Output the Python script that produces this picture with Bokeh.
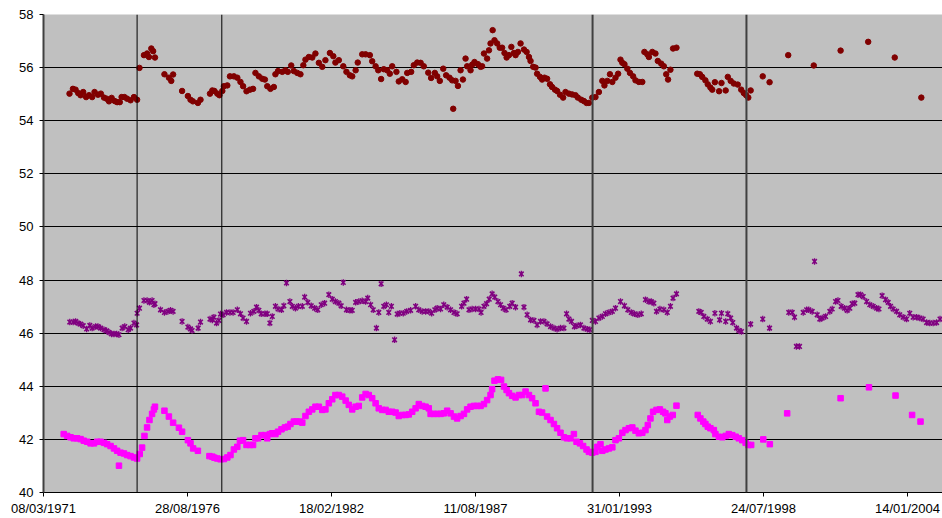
from datetime import datetime, timedelta
from bokeh.plotting import figure
from bokeh.models import FixedTicker, DatetimeTickFormatter, Span, Range1d
from bokeh.embed import file_html
from bokeh.resources import INLINE

# ---------------- data (dates as decimal years) ----------------
red_year = [
    1972.17, 1972.30, 1972.40, 1972.50, 1972.59, 1972.69, 1972.80, 1972.91, 1973.03, 1973.12,
    1973.25, 1973.36, 1973.48, 1973.58, 1973.67, 1973.77, 1973.89, 1973.98, 1974.08, 1974.15,
    1974.26, 1974.36, 1974.49, 1974.62, 1974.74, 1974.83, 1975.00, 1975.12, 1975.19, 1975.28,
    1975.35, 1975.42, 1975.78, 1975.95, 1976.04, 1976.11, 1976.45, 1976.67, 1976.77, 1976.86,
    1977.05, 1977.15, 1977.51, 1977.60, 1977.68, 1977.79, 1977.87, 1977.98, 1978.04, 1978.17,
    1978.27, 1978.42, 1978.55, 1978.67, 1978.77, 1978.90, 1979.03, 1979.15, 1979.24, 1979.37,
    1979.50, 1979.60, 1979.69, 1979.81, 1979.94, 1980.00, 1980.10, 1980.26, 1980.38, 1980.47,
    1980.60, 1980.70, 1980.83,
    1980.95, 1981.06, 1981.14, 1981.27, 1981.40, 1981.52, 1981.65, 1981.78, 1981.90, 1982.07,
    1982.20, 1982.28, 1982.41, 1982.58, 1982.70, 1982.83, 1982.92, 1983.05, 1983.13, 1983.30,
    1983.43, 1983.59, 1983.68, 1983.81, 1983.91, 1984.02, 1984.12, 1984.25, 1984.35, 1984.44,
    1984.60, 1984.69, 1984.82, 1984.95, 1985.01, 1985.16, 1985.26, 1985.39, 1985.52, 1985.64,
    1985.81, 1985.92, 1986.06, 1986.15, 1986.25, 1986.38, 1986.49, 1986.62, 1986.72, 1986.76,
    1986.85, 1986.94, 1987.04, 1987.13, 1987.23, 1987.29, 1987.42, 1987.48, 1987.57, 1987.70,
    1987.80, 1987.86, 1987.93, 1988.05, 1988.12, 1988.18, 1988.26, 1988.33, 1988.43, 1988.53,
    1988.62, 1988.71, 1988.79, 1988.88, 1988.97, 1989.07, 1989.13, 1989.22, 1989.32, 1989.45,
    1989.55, 1989.64, 1989.70, 1989.80, 1989.89, 1989.95, 1990.06, 1990.14, 1990.23, 1990.33,
    1990.44, 1990.52, 1990.63, 1990.71, 1990.82, 1990.94, 1991.03, 1991.16, 1991.28, 1991.41,
    1991.50, 1991.63, 1991.73, 1991.83, 1991.92, 1992.05, 1992.17, 1992.30, 1992.43, 1992.51,
    1992.62, 1992.72, 1992.81, 1992.93, 1993.03, 1993.12,
    1993.19, 1993.27, 1993.38, 1993.48, 1993.60, 1993.69, 1993.82, 1993.95, 1994.03, 1994.14,
    1994.20, 1994.33, 1994.45, 1994.54, 1994.67, 1994.77, 1994.86, 1994.93, 1995.02, 1995.12,
    1995.25, 1996.04, 1996.14, 1996.23, 1996.35, 1996.44, 1996.54, 1996.61, 1996.71, 1996.87,
    1996.96, 1997.12, 1997.20, 1997.31, 1997.43, 1997.58, 1997.71, 1997.81, 1997.90, 1997.98,
    1998.07, 1998.53, 1998.79, 1999.50, 2000.47, 2001.49, 2002.54, 2003.55, 2004.56,
]
red_value = [
    55.02, 55.20, 55.17, 55.04, 54.96, 55.08, 54.89, 54.96, 54.89, 55.08,
    54.98, 55.02, 54.87, 54.83, 54.73, 54.86, 54.74, 54.70, 54.70, 54.89,
    54.89, 54.83, 54.77, 54.89, 54.79, 55.99, 56.47, 56.53, 56.40, 56.72,
    56.62, 56.38, 55.75, 55.62, 55.50, 55.74, 55.12, 54.93, 54.79, 54.73,
    54.67, 54.79, 55.02, 55.14, 55.12, 55.02, 54.96, 55.12, 55.30, 55.33,
    55.67, 55.67, 55.62, 55.46, 55.30, 55.11, 55.17, 55.20, 55.80, 55.67,
    55.58, 55.55, 55.30, 55.20, 55.27, 55.75, 55.87, 55.84, 55.90, 55.84,
    56.08, 55.87, 55.80,
    55.75, 56.09, 56.30, 56.40, 56.38, 56.53, 56.18, 56.03, 56.28, 56.55,
    56.43, 56.19, 56.28, 56.05, 55.84, 55.71, 55.67, 55.90, 56.19, 56.50,
    56.50, 56.47, 56.24, 56.05, 55.90, 55.57, 55.94, 55.90, 55.77, 56.05,
    55.84, 55.48, 55.56, 55.46, 55.80, 55.84, 56.09, 56.19, 56.18, 56.05,
    55.81, 55.61, 55.80, 55.67, 55.50, 55.96, 55.71, 55.62, 55.52, 54.45,
    55.50, 55.31, 55.90, 55.55, 56.34, 56.05, 55.90, 56.11, 56.21, 56.13,
    56.03, 56.05, 56.53, 56.34, 56.65, 56.91, 57.41, 57.03, 56.91, 56.75,
    56.75, 56.55, 56.38, 56.47, 56.78, 56.55, 56.47, 56.59, 56.91, 56.68,
    56.59, 56.40, 56.25, 56.03, 56.00, 55.77, 55.65, 55.55, 55.62, 55.58,
    55.37, 55.27, 55.17, 55.12, 54.98, 54.87, 55.08, 55.02, 54.99, 54.96,
    54.87, 54.79, 54.74, 54.67, 54.67, 54.87, 54.89, 55.08, 55.50, 55.33,
    55.50, 55.75, 55.46, 55.62, 55.77, 56.30,
    56.18, 56.13, 55.96, 55.80, 55.67, 55.52, 55.46, 55.46, 56.59, 56.50,
    56.40, 56.59, 56.53, 56.25, 56.15, 56.05, 55.75, 55.55, 55.92, 56.72,
    56.75, 55.77, 55.75, 55.65, 55.52, 55.37, 55.25, 55.17, 55.45, 55.11,
    55.42, 55.14, 55.65, 55.50, 55.40, 55.36, 55.17, 55.04, 54.96, 54.87,
    55.14, 55.67, 55.45, 56.47, 56.08, 56.64, 56.97, 56.38, 54.87,
]

purple_year = [
    1972.18, 1972.31, 1972.40, 1972.49, 1972.59, 1972.69, 1972.82, 1972.94, 1973.03, 1973.16,
    1973.25, 1973.35, 1973.48, 1973.58, 1973.67, 1973.77, 1973.86, 1973.96, 1974.05, 1974.17,
    1974.27, 1974.40, 1974.49, 1974.62, 1974.72, 1974.74, 1974.83, 1975.00, 1975.12, 1975.21,
    1975.31, 1975.38, 1975.42, 1975.63, 1975.78, 1975.91, 1976.01, 1976.11, 1976.45, 1976.67,
    1976.77, 1976.83, 1977.06, 1977.15, 1977.51, 1977.60, 1977.66, 1977.76, 1977.85, 1977.91,
    1978.01, 1978.14, 1978.27, 1978.39, 1978.55, 1978.67, 1978.77, 1978.90, 1979.05, 1979.18,
    1979.28, 1979.37, 1979.46, 1979.60, 1979.69, 1979.79, 1979.88, 1980.00, 1980.10, 1980.23,
    1980.32, 1980.42, 1980.55, 1980.64, 1980.76, 1980.87,
    1981.02, 1981.11, 1981.23, 1981.36, 1981.49, 1981.61, 1981.74, 1981.87, 1982.03, 1982.16,
    1982.28, 1982.41, 1982.50, 1982.58, 1982.70, 1982.83, 1982.92, 1983.05, 1983.17, 1983.30,
    1983.43, 1983.51, 1983.62, 1983.72, 1983.84, 1983.93, 1984.02, 1984.12, 1984.22, 1984.31,
    1984.41, 1984.53, 1984.63, 1984.73, 1984.86, 1984.99, 1985.14, 1985.33, 1985.45, 1985.58,
    1985.71, 1985.83, 1985.94, 1986.06, 1986.15, 1986.28, 1986.40, 1986.53, 1986.66, 1986.79,
    1986.91, 1987.08, 1987.17, 1987.27, 1987.36, 1987.48, 1987.61, 1987.74, 1987.82, 1987.93,
    1988.03, 1988.13, 1988.24, 1988.34, 1988.46, 1988.56, 1988.66, 1988.77, 1988.91, 1989.00,
    1989.13, 1989.35, 1989.45, 1989.57, 1989.70, 1989.83, 1989.95, 1990.08, 1990.21, 1990.33,
    1990.46, 1990.59, 1990.71, 1990.84, 1990.97, 1991.07, 1991.16, 1991.26, 1991.37, 1991.47,
    1991.60, 1991.73, 1991.86, 1991.96, 1992.05, 1992.17, 1992.30, 1992.43, 1992.55, 1992.68,
    1992.81, 1992.93, 1993.12,
    1993.27, 1993.40, 1993.53, 1993.65, 1993.78, 1993.91, 1994.07, 1994.20, 1994.29, 1994.39,
    1994.49, 1994.62, 1994.77, 1994.90, 1995.02, 1995.12, 1995.25, 1996.10, 1996.19, 1996.29,
    1996.42, 1996.54, 1996.71, 1996.89, 1996.96, 1997.12, 1997.20, 1997.31, 1997.39, 1997.53,
    1997.62, 1997.72, 1998.07, 1998.53, 1998.79, 1999.52, 1999.65, 1999.74, 1999.81, 1999.93,
    2000.07, 2000.20, 2000.28, 2000.41, 2000.50, 2000.60, 2000.70, 2000.79, 2000.92, 2001.08,
    2001.17, 2001.30, 2001.39, 2001.51, 2001.64, 2001.74, 2001.84, 2001.93, 2002.03, 2002.15,
    2002.25, 2002.35, 2002.48, 2002.60, 2002.73, 2002.86, 2002.95, 2003.07, 2003.20, 2003.30,
    2003.39, 2003.49, 2003.62, 2003.74, 2003.87, 2004.00, 2004.12, 2004.25, 2004.38, 2004.50,
    2004.63, 2004.76, 2004.88, 2005.01, 2005.14, 2005.27,
]
purple_value = [
    46.42, 46.42, 46.44, 46.38, 46.34, 46.28, 46.16, 46.29, 46.19, 46.25,
    46.25, 46.19, 46.13, 46.09, 46.03, 45.97, 45.97, 45.97, 45.94, 46.19,
    46.25, 46.13, 46.19, 46.38, 46.31, 46.75, 46.94, 47.23, 47.23, 47.16,
    47.23, 47.07, 47.11, 46.88, 46.78, 46.82, 46.86, 46.82, 46.44, 46.23,
    46.16, 46.10, 46.19, 46.42, 46.53, 46.50, 46.60, 46.38, 46.48, 46.72,
    46.69, 46.78, 46.78, 46.78, 46.88, 46.73, 46.57, 46.44, 46.75, 46.82,
    46.98, 46.86, 46.73, 46.73, 46.73, 46.38, 46.63, 47.01, 46.91, 46.88,
    47.03, 47.89, 47.19, 47.01, 46.94, 47.01,
    47.01, 47.36, 47.16, 47.03, 46.94, 46.88, 47.07, 47.13, 47.45, 47.28,
    47.19, 47.13, 47.03, 47.91, 46.88, 46.86, 46.86, 47.16, 47.19, 47.22,
    47.19, 47.32, 47.07, 46.88, 46.19, 46.78, 47.86, 47.01, 47.07, 46.78,
    47.01, 45.75, 46.72, 46.75, 46.75, 46.82, 46.86, 47.01, 46.88, 46.82,
    46.82, 46.82, 46.75, 46.88, 46.94, 46.91, 47.07, 46.98, 46.88, 46.78,
    46.73, 47.01, 47.13, 47.28, 46.88, 46.91, 46.91, 46.91, 46.78, 47.01,
    47.11, 47.28, 47.48, 47.36, 47.19, 47.07, 46.94, 46.88, 47.01, 47.13,
    46.98, 48.23, 46.98, 46.69, 46.50, 46.48, 46.31, 46.44, 46.44, 46.35,
    46.25, 46.19, 46.15, 46.19, 46.19, 46.73, 46.53, 46.44, 46.25, 46.28,
    46.31, 46.19, 46.15, 46.13, 46.48, 46.44, 46.57, 46.63, 46.73, 46.78,
    46.82, 46.94, 47.19,
    47.03, 46.88, 46.78, 46.73, 46.69, 46.73, 47.26, 47.19, 47.19, 47.13,
    46.82, 46.91, 46.88, 46.78, 47.01, 47.32, 47.48, 46.82, 46.78, 46.63,
    46.53, 46.44, 46.75, 46.50, 46.75, 46.44, 46.73, 46.57, 46.40, 46.19,
    46.10, 46.06, 46.34, 46.53, 46.19, 46.78, 46.78, 46.60, 45.50, 45.50,
    46.78, 46.88, 46.88, 46.82, 48.70, 46.69, 46.53, 46.57, 46.63, 46.82,
    46.91, 47.19, 47.23, 47.01, 46.94, 46.86, 46.94, 47.11, 47.13, 47.45,
    47.45, 47.38, 47.19, 47.07, 47.01, 46.94, 46.91, 47.41, 47.26, 47.16,
    47.01, 46.91, 46.82, 46.69, 46.60, 46.53, 46.75, 46.60, 46.60, 46.57,
    46.53, 46.40, 46.38, 46.38, 46.40, 46.53,
]

magenta_year = [
    1971.95, 1972.08, 1972.21, 1972.33, 1972.46, 1972.59, 1972.71, 1972.84, 1972.97, 1973.10,
    1973.22, 1973.35, 1973.48, 1973.60, 1973.73, 1973.86, 1973.98, 1974.05, 1974.11, 1974.24,
    1974.36, 1974.49, 1974.62, 1974.74, 1974.84, 1974.93, 1975.02, 1975.12, 1975.21, 1975.31,
    1975.38, 1975.42, 1975.78, 1975.95, 1976.11, 1976.33, 1976.45, 1976.67, 1976.77, 1976.87,
    1977.05, 1977.49, 1977.60, 1977.68, 1977.79, 1977.91, 1978.04, 1978.17, 1978.29, 1978.42,
    1978.55, 1978.65, 1978.77, 1978.90, 1979.03, 1979.15, 1979.24, 1979.34, 1979.47, 1979.60,
    1979.69, 1979.79, 1979.88, 1980.00, 1980.10, 1980.23, 1980.36, 1980.47, 1980.57, 1980.70,
    1980.80, 1980.93,
    1981.02, 1981.14, 1981.27, 1981.40, 1981.52, 1981.65, 1981.78, 1981.90, 1982.03, 1982.16,
    1982.28, 1982.41, 1982.54, 1982.67, 1982.79, 1982.92, 1983.05, 1983.17, 1983.30, 1983.43,
    1983.55, 1983.68, 1983.81, 1983.93, 1984.06, 1984.19, 1984.31, 1984.44, 1984.57, 1984.69,
    1984.82, 1984.95, 1985.07, 1985.20, 1985.33, 1985.45, 1985.58, 1985.71, 1985.83, 1985.90,
    1986.02, 1986.15, 1986.28, 1986.40, 1986.53, 1986.66, 1986.79, 1986.91, 1987.04, 1987.17,
    1987.29, 1987.42, 1987.55, 1987.67, 1987.80, 1987.93, 1988.05, 1988.18, 1988.24, 1988.33,
    1988.46, 1988.58, 1988.69, 1988.79, 1988.88, 1989.00, 1989.13, 1989.26, 1989.38, 1989.51,
    1989.64, 1989.76, 1989.89, 1990.02, 1990.14, 1990.27, 1990.33, 1990.46, 1990.59, 1990.71,
    1990.84, 1990.97, 1991.09, 1991.22, 1991.35, 1991.45, 1991.58, 1991.70, 1991.83, 1991.92,
    1992.05, 1992.17, 1992.24, 1992.36, 1992.43, 1992.55, 1992.68, 1992.81, 1992.93, 1993.06,
    1993.19, 1993.31, 1993.44, 1993.57, 1993.69, 1993.82, 1993.95, 1994.07, 1994.16, 1994.26,
    1994.36, 1994.49, 1994.62, 1994.74, 1994.83, 1994.90, 1995.00, 1995.11, 1995.25, 1996.06,
    1996.16, 1996.27, 1996.35, 1996.44, 1996.54, 1996.67, 1996.73, 1996.86, 1996.99, 1997.12,
    1997.24, 1997.37, 1997.50, 1997.62, 1997.75, 1997.88, 1997.98, 1998.09, 1998.55, 1998.80,
    1999.46, 2001.49, 2002.57, 2003.58, 2004.21, 2004.53,
]
magenta_value = [
    42.20, 42.13, 42.08, 42.04, 42.04, 42.01, 41.95, 41.91, 41.85, 41.85,
    41.91, 41.91, 41.87, 41.82, 41.75, 41.66, 41.57, 41.01, 41.50, 41.47,
    41.41, 41.37, 41.32, 41.28, 41.45, 41.69, 42.13, 42.45, 42.73, 42.96,
    43.13, 43.23, 43.08, 42.86, 42.63, 42.44, 42.29, 41.97, 41.85, 41.66,
    41.57, 41.37, 41.35, 41.31, 41.28, 41.25, 41.26, 41.32, 41.41, 41.62,
    41.72, 41.95, 41.97, 41.79, 41.79, 41.79, 42.04, 42.04, 42.16, 42.16,
    42.04, 42.20, 42.23, 42.20, 42.29, 42.38, 42.45, 42.48, 42.58, 42.67,
    42.67, 42.67,
    42.63, 42.88, 43.04, 43.13, 43.23, 43.23, 43.11, 43.13, 43.36, 43.51,
    43.67, 43.67, 43.61, 43.46, 43.30, 43.13, 43.23, 43.26, 43.58, 43.71,
    43.67, 43.55, 43.36, 43.17, 43.11, 43.11, 43.04, 43.04, 43.01, 42.88,
    42.92, 42.92, 42.94, 43.04, 43.17, 43.33, 43.26, 43.23, 43.17, 42.96,
    42.96, 42.96, 42.96, 42.98, 43.08, 42.98, 42.86, 42.79, 42.88, 42.96,
    43.13, 43.23, 43.26, 43.26, 43.26, 43.33, 43.48, 43.67, 43.89, 44.21,
    44.26, 44.24, 43.99, 43.86, 43.74, 43.64, 43.58, 43.67, 43.67, 43.80,
    43.67, 43.55, 43.36, 43.04, 43.01, 43.92, 42.86, 42.73, 42.58, 42.42,
    42.25, 42.08, 42.04, 42.04, 42.20, 41.91, 41.85, 41.75, 41.62, 41.53,
    41.50, 41.53, 41.72, 41.82, 41.57, 41.62, 41.66, 41.70, 41.97, 42.04,
    42.25, 42.35, 42.42, 42.45, 42.33, 42.23, 42.25, 42.35, 42.54, 42.79,
    43.04, 43.11, 43.13, 43.04, 42.98, 42.73, 42.86, 42.92, 43.27, 42.92,
    42.79, 42.67, 42.58, 42.48, 42.42, 42.35, 42.20, 42.10, 42.08, 42.13,
    42.20, 42.16, 42.10, 42.04, 41.97, 41.87, 41.79, 41.79, 42.00, 41.82,
    42.98, 43.55, 43.96, 43.65, 42.92, 42.67,
]

event_year = [1974.74, 1977.96, 1992.06, 1997.91]
tick_dates = ["1971-03-08", "1976-08-28", "1982-02-18", "1987-08-11",
              "1993-01-31", "1998-07-24", "2004-01-14"]
y_ticks = [40, 42, 44, 46, 48, 50, 52, 54, 56, 58]

# ---------------- helpers ----------------
EPOCH = datetime(1970, 1, 1)


def dec_to_dt(y):
    yr = int(y)
    a = datetime(yr, 1, 1)
    b = datetime(yr + 1, 1, 1)
    return a + (b - a) * (y - yr)


def to_ms(dt):
    return (dt - EPOCH).total_seconds() * 1000.0


tick_dt = [datetime.strptime(s, "%Y-%m-%d") for s in tick_dates]
x_start = tick_dt[0]
days_per_px = (tick_dt[1] - tick_dt[0]).days / 144.0
W, H = 942, 518
LEFT, BOTTOM, TOP = 43, 26, 14
x_end = x_start + timedelta(days=(W - LEFT) * days_per_px)

p = figure(width=W, height=H, x_axis_type="datetime",
           x_range=Range1d(x_start, x_end), y_range=Range1d(40, 58),
           output_backend="svg", toolbar_location=None,
           min_border_left=LEFT, min_border_right=0,
           min_border_top=TOP, min_border_bottom=BOTTOM)
p.background_fill_color = "#C0C0C0"
p.border_fill_color = "white"
p.outline_line_color = None

p.xgrid.grid_line_color = None
p.ygrid.grid_line_color = "black"
p.ygrid.grid_line_width = 1
p.ygrid.ticker = FixedTicker(ticks=y_ticks)

p.yaxis.ticker = FixedTicker(ticks=y_ticks)
p.xaxis.ticker = FixedTicker(ticks=[to_ms(d) for d in tick_dt])
fmt = "%d/%m/%Y"
p.xaxis.formatter = DatetimeTickFormatter(
    microseconds=fmt, milliseconds=fmt, seconds=fmt, minsec=fmt, minutes=fmt,
    hourmin=fmt, hours=fmt, days=fmt, months=fmt, years=fmt)

for ax in (p.xaxis[0], p.yaxis[0]):
    ax.major_label_text_font = "Liberation Sans"
    ax.major_label_text_font_size = "13px"
    ax.major_label_text_color = "black"
    ax.major_tick_in = 0
    ax.major_tick_out = 4
    ax.major_tick_line_color = "black"
    ax.minor_tick_line_color = None
p.yaxis.axis_line_color = "#404040"
p.yaxis.axis_line_width = 2
p.yaxis.major_label_standoff = 6
p.xaxis.axis_line_color = "black"
p.xaxis.axis_line_width = 1
p.xaxis.major_label_standoff = 4

# series
p.scatter([dec_to_dt(v) for v in red_year], red_value, marker="circle",
          size=5.5, fill_color="#800000", line_color="#800000")
pdx = [dec_to_dt(v) for v in purple_year]
p.scatter(pdx, purple_value, marker="x", size=6.5, line_color="#800080", line_width=1.6)
p.scatter(pdx, purple_value, marker="dash", angle=1.5708, size=6.5,
          line_color="#800080", line_width=1.3)
p.scatter([dec_to_dt(v) for v in magenta_year], magenta_value, marker="square",
          size=5.5, fill_color="#FF00FF", line_color="#FF00FF")

# vertical event lines
for i, ev in enumerate(event_year):
    p.add_layout(Span(location=to_ms(dec_to_dt(ev)), dimension="height",
                      line_color="black" if i < 2 else "#404040",
                      line_width=1 if i < 2 else 2))

open("out.html", "w").write(file_html(p, INLINE))
